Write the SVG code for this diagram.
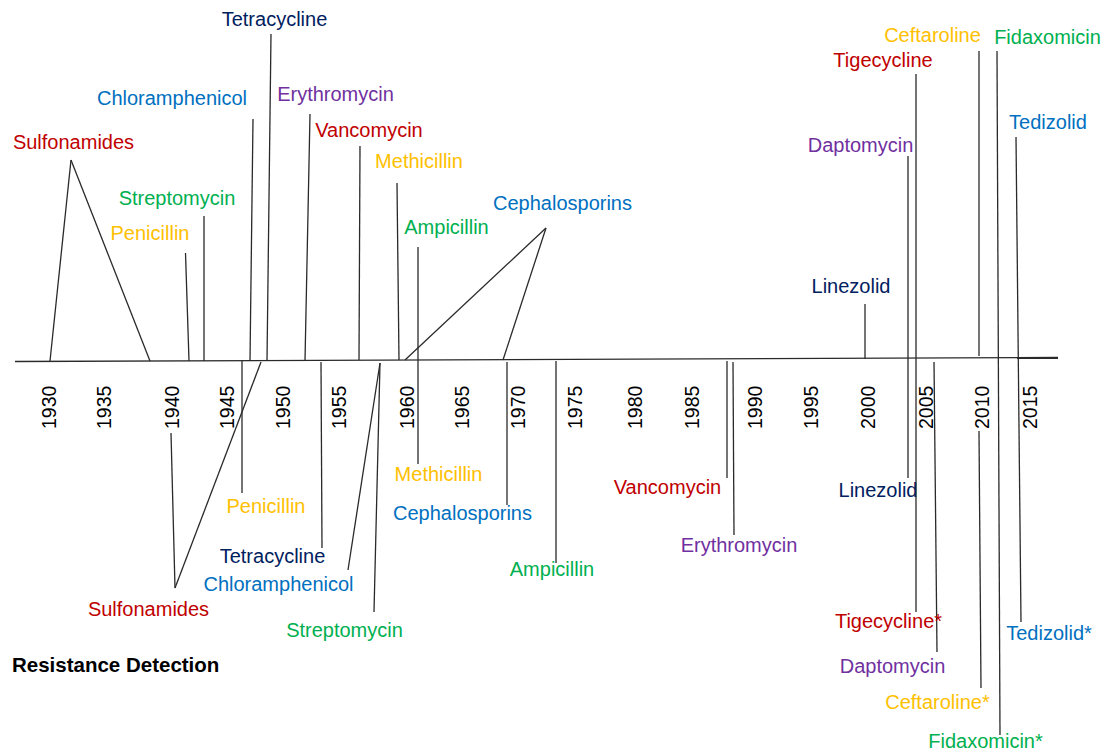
<svg xmlns="http://www.w3.org/2000/svg" width="1107" height="755" viewBox="0 0 1107 755">
<style>
text{font-family:"Liberation Sans",Arial,sans-serif;font-size:20px}
.lbl{text-anchor:middle}
.yr{font-size:19.5px;fill:#000}
.red{fill:#C00000}.grn{fill:#00B050}.yel{fill:#FFC000}.blu{fill:#0070C0}.nav{fill:#002060}.pur{fill:#7030A0}
.ttl{font-weight:bold;font-size:20.5px;fill:#000}
#connectors line,#axis line{stroke:#2a2a2a;stroke-width:1.3;fill:none}
</style>
<rect width="1107" height="755" fill="#fff"/>
<g id="axis">
<line x1="15" y1="361.5" x2="1058" y2="357.5"/>
<text class="yr" transform="translate(55.5,429) rotate(-90)">1930</text>
<text class="yr" transform="translate(110.5,429) rotate(-90)">1935</text>
<text class="yr" transform="translate(178.5,429) rotate(-90)">1940</text>
<text class="yr" transform="translate(233.5,429) rotate(-90)">1945</text>
<text class="yr" transform="translate(289.5,429) rotate(-90)">1950</text>
<text class="yr" transform="translate(345.5,429) rotate(-90)">1955</text>
<text class="yr" transform="translate(413.5,429) rotate(-90)">1960</text>
<text class="yr" transform="translate(468.5,429) rotate(-90)">1965</text>
<text class="yr" transform="translate(524.5,429) rotate(-90)">1970</text>
<text class="yr" transform="translate(581.5,429) rotate(-90)">1975</text>
<text class="yr" transform="translate(641.5,429) rotate(-90)">1980</text>
<text class="yr" transform="translate(698.5,429) rotate(-90)">1985</text>
<text class="yr" transform="translate(761.5,429) rotate(-90)">1990</text>
<text class="yr" transform="translate(817.5,429) rotate(-90)">1995</text>
<text class="yr" transform="translate(874.5,429) rotate(-90)">2000</text>
<text class="yr" transform="translate(932.5,429) rotate(-90)">2005</text>
<text class="yr" transform="translate(988.5,429) rotate(-90)">2010</text>
<text class="yr" transform="translate(1036.5,429) rotate(-90)">2015</text>
</g>
<g id="connectors">
<line x1="71" y1="160" x2="50" y2="361"/>
<line x1="71" y1="160" x2="150" y2="361"/>
<line x1="185.5" y1="253" x2="189" y2="361"/>
<line x1="204" y1="216" x2="204" y2="361"/>
<line x1="253" y1="119" x2="250" y2="361"/>
<line x1="271" y1="34" x2="267" y2="361"/>
<line x1="310" y1="114" x2="305" y2="361"/>
<line x1="360" y1="146" x2="359" y2="360"/>
<line x1="397" y1="183" x2="399" y2="360"/>
<line x1="418" y1="247" x2="418" y2="360"/>
<line x1="546" y1="228" x2="405" y2="360"/>
<line x1="546" y1="228" x2="503" y2="360"/>
<line x1="865" y1="304" x2="865" y2="359"/>
<line x1="908" y1="156" x2="908" y2="359"/>
<line x1="916" y1="74" x2="916" y2="612"/>
<line x1="979" y1="51" x2="979" y2="356"/>
<line x1="997" y1="51" x2="1000" y2="735"/>
<line x1="1016" y1="137" x2="1021" y2="622"/>
<line x1="171" y1="433" x2="175" y2="588"/>
<line x1="175" y1="588" x2="261" y2="362"/>
<line x1="242" y1="361" x2="242" y2="493"/>
<line x1="321" y1="362" x2="322" y2="548"/>
<line x1="380" y1="363" x2="348" y2="570"/>
<line x1="380" y1="363" x2="374" y2="612"/>
<line x1="418" y1="360" x2="418" y2="464"/>
<line x1="507" y1="362" x2="507" y2="505"/>
<line x1="556" y1="361" x2="556" y2="563"/>
<line x1="727" y1="361" x2="727" y2="478"/>
<line x1="733" y1="362" x2="734" y2="535"/>
<line x1="908" y1="359" x2="908" y2="478"/>
<line x1="934" y1="362" x2="937" y2="652"/>
<line x1="979" y1="431" x2="981" y2="688"/>
</g>
<g id="intro-sulfonamides"><text class="lbl red" x="73.5" y="149">Sulfonamides</text></g>
<g id="intro-penicillin"><text class="lbl yel" x="150" y="240">Penicillin</text></g>
<g id="intro-streptomycin"><text class="lbl grn" x="177" y="205">Streptomycin</text></g>
<g id="intro-chloramphenicol"><text class="lbl blu" x="172" y="105">Chloramphenicol</text></g>
<g id="intro-tetracycline"><text class="lbl nav" x="274.5" y="26">Tetracycline</text></g>
<g id="intro-erythromycin"><text class="lbl pur" x="335.5" y="101">Erythromycin</text></g>
<g id="intro-vancomycin"><text class="lbl red" x="369" y="137">Vancomycin</text></g>
<g id="intro-methicillin"><text class="lbl yel" x="419" y="168">Methicillin</text></g>
<g id="intro-ampicillin"><text class="lbl grn" x="446.5" y="234">Ampicillin</text></g>
<g id="intro-cephalosporins"><text class="lbl blu" x="562.5" y="210">Cephalosporins</text></g>
<g id="intro-linezolid"><text class="lbl nav" x="851" y="293">Linezolid</text></g>
<g id="intro-daptomycin"><text class="lbl pur" x="860.5" y="152">Daptomycin</text></g>
<g id="intro-tigecycline"><text class="lbl red" x="883" y="67">Tigecycline</text></g>
<g id="intro-ceftaroline"><text class="lbl yel" x="932.5" y="42">Ceftaroline</text></g>
<g id="intro-fidaxomicin"><text class="lbl grn" x="1047.5" y="44">Fidaxomicin</text></g>
<g id="intro-tedizolid"><text class="lbl blu" x="1048" y="129">Tedizolid</text></g>
<g id="res-penicillin"><text class="lbl yel" x="266" y="513">Penicillin</text></g>
<g id="res-tetracycline"><text class="lbl nav" x="272.5" y="563">Tetracycline</text></g>
<g id="res-chloramphenicol"><text class="lbl blu" x="278.5" y="591">Chloramphenicol</text></g>
<g id="res-sulfonamides"><text class="lbl red" x="148.5" y="616">Sulfonamides</text></g>
<g id="res-streptomycin"><text class="lbl grn" x="344.5" y="637">Streptomycin</text></g>
<g id="res-methicillin"><text class="lbl yel" x="438.5" y="481">Methicillin</text></g>
<g id="res-cephalosporins"><text class="lbl blu" x="462.5" y="520">Cephalosporins</text></g>
<g id="res-ampicillin"><text class="lbl grn" x="552" y="576">Ampicillin</text></g>
<g id="res-vancomycin"><text class="lbl red" x="667.5" y="494">Vancomycin</text></g>
<g id="res-erythromycin"><text class="lbl pur" x="739" y="552">Erythromycin</text></g>
<g id="res-linezolid"><text class="lbl nav" x="878" y="497">Linezolid</text></g>
<g id="res-tigecycline"><text class="lbl red" x="888.5" y="628">Tigecycline*</text></g>
<g id="res-daptomycin"><text class="lbl pur" x="892.5" y="673">Daptomycin</text></g>
<g id="res-ceftaroline"><text class="lbl yel" x="937.5" y="709">Ceftaroline*</text></g>
<g id="res-tedizolid"><text class="lbl blu" x="1049" y="640">Tedizolid*</text></g>
<g id="res-fidaxomicin"><text class="lbl grn" x="985.5" y="748">Fidaxomicin*</text></g>
<g id="title"><text class="ttl" x="12" y="672">Resistance Detection</text></g>
</svg>
